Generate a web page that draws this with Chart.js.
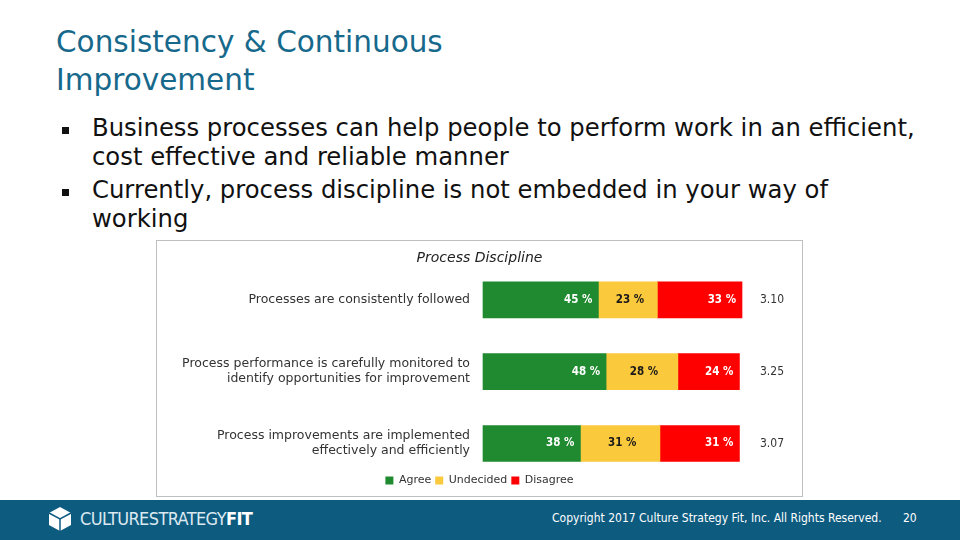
<!DOCTYPE html>
<html><head><meta charset="utf-8">
<script src="https://cdn.jsdelivr.net/npm/chart.js@4"></script>
<style>
html,body{margin:0;padding:0;width:960px;height:540px;overflow:hidden;background:#fff;font-family:"DejaVu Sans",sans-serif;}
#title{position:absolute;left:56px;top:23px;color:#17698c;font-size:29.5px;line-height:38px;font-family:"DejaVu Sans",sans-serif;}
.bul{position:absolute;left:92px;color:#111;font-size:24.3px;line-height:29px;font-family:"DejaVu Sans",sans-serif;}
.sq{position:absolute;left:62px;width:7px;height:7px;background:#111;}
#box{position:absolute;left:156px;top:240px;width:645px;height:255px;border:1px solid #bfbfbf;background:#fff;}
#footer{position:absolute;left:0;top:500px;width:960px;height:40px;background:#0e5b80;}
#copy{position:absolute;left:552px;top:511px;color:#fff;font-size:12px;font-family:"DejaVu Sans Condensed",sans-serif;}
#pg{position:absolute;left:903px;top:511px;color:#fff;font-size:12px;font-family:"DejaVu Sans Condensed",sans-serif;}
#logo{position:absolute;left:80px;top:508px;color:#dbe9f1;font-size:18px;font-family:"DejaVu Sans Condensed",sans-serif;letter-spacing:-0.6px;font-weight:300;}
</style></head>
<body>
<div id="title">Consistency &amp; Continuous<br>Improvement</div>
<div class="sq" style="top:127px"></div>
<div class="bul" style="top:113px">Business processes can help people to perform work in an efficient,<br>cost effective and reliable manner</div>
<div class="sq" style="top:189px"></div>
<div class="bul" style="top:175px">Currently, process discipline is not embedded in your way of<br>working</div>
<div id="box"><canvas id="c" width="645" height="255"></canvas></div>
<div id="footer"></div>
<svg style="position:absolute;left:47px;top:506px" width="26" height="26" viewBox="0 0 26 26">
<polygon points="13,1 24,7 24,19 13,25 2,19 2,7" fill="#ffffff"/>
<polyline points="2,7 13,13 24,7" fill="none" stroke="#0e5b80" stroke-width="1.5"/>
<line x1="13" y1="13" x2="13" y2="25" stroke="#0e5b80" stroke-width="1.5"/>
</svg>
<div id="logo">CULTURESTRATEGY<b style="font-weight:bold;color:#fff">FIT</b></div>
<div id="copy">Copyright 2017 Culture Strategy Fit, Inc. All Rights Reserved.</div>
<div id="pg">20</div>
<script>
const categories = [
  ["Processes are consistently followed"],
  ["Process performance is carefully monitored to","identify opportunities for improvement"],
  ["Process improvements are implemented","effectively and efficiently"]
];
const agree = [45, 48, 38];
const undecided = [23, 28, 31];
const disagree = [33, 24, 31];
const means = ["3.10", "3.25", "3.07"];
const seriesNames = ["Agree", "Undecided", "Disagree"];
const chartTitle = "Process Discipline";

const labelPlugin = {
  id: 'labels',
  afterDatasetsDraw(chart) {
    const ctx = chart.ctx;
    ctx.save();
    ctx.font = 'bold 11.5px "DejaVu Sans Condensed", sans-serif';
    ctx.textBaseline = 'middle';
    chart.data.datasets.forEach((ds, di) => {
      const meta = chart.getDatasetMeta(di);
      meta.data.forEach((bar, i) => {
        const txt = ds.data[i] + ' %';
        const left = bar.base, right = bar.x;
        if (di === 1) {
          ctx.fillStyle = '#1a1a1a';
          ctx.textAlign = 'center';
          ctx.fillText(txt, (left + right) / 2 + 2, bar.y);
        } else {
          ctx.fillStyle = '#ffffff';
          ctx.textAlign = 'right';
          ctx.fillText(txt, right - 6, bar.y);
        }
      });
    });
    ctx.restore();
  }
};

new Chart(document.getElementById('c'), {
  type: 'bar',
  data: {
    labels: categories,
    datasets: [
      {label: seriesNames[0], data: agree, backgroundColor: '#1f8a2f'},
      {label: seriesNames[1], data: undecided, backgroundColor: '#fac93c'},
      {label: seriesNames[2], data: disagree, backgroundColor: '#ff0000'}
    ]
  },
  options: {
    indexAxis: 'y',
    responsive: false,
    animation: false,
    layout: {padding: {left: 0, right: 0, top: 0, bottom: 0}},
    datasets: {bar: {barThickness: 36, borderWidth: 0, clip: false}},
    scales: {
      x: {stacked: true, min: 0, max: 101, display: true,
          ticks: {display: false}, grid: {display: false, drawTicks: false}, border: {display: false},
          title: {display: true, text: ' ', color: 'rgba(0,0,0,0)', font: {size: 10}, padding: {top: 8, bottom: 7.5}}},
      y: {stacked: true, offset: false, grid: {display: false, drawTicks: false}, border: {display: false},
          afterFit(scale) { scale.width = 326; },
          ticks: {color: '#333', padding: 13, font: {size: 12.5, family: '"DejaVu Sans", sans-serif'}}},
      y2: {type: 'category', labels: means, position: 'right', offset: false,
           grid: {display: false, drawTicks: false}, border: {display: false},
           afterFit(scale) { scale.width = 60; },
           ticks: {color: '#333', padding: 18, font: {size: 12, family: '"DejaVu Sans Condensed", sans-serif'}}}
    },
    plugins: {
      title: {display: true, text: chartTitle, color: '#222', padding: {top: 9, bottom: 33},
              font: {size: 14, style: 'italic', weight: 'normal', family: '"DejaVu Sans", sans-serif'}},
      legend: {position: 'bottom', labels: {boxWidth: 8, boxHeight: 8, padding: 4, color: '#333',
              font: {size: 11, family: '"DejaVu Sans", sans-serif'}}},
      tooltip: {enabled: false}
    }
  },
  plugins: [labelPlugin]
});
</script>
</body></html>
